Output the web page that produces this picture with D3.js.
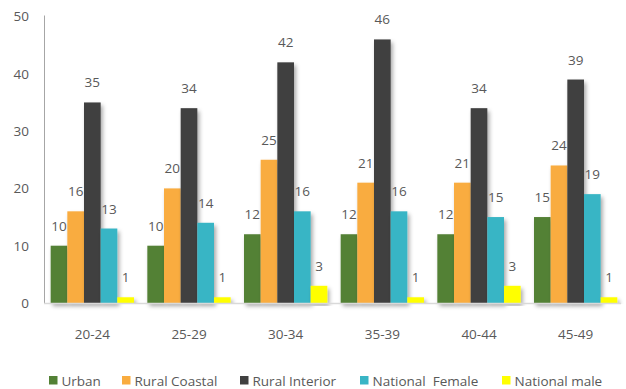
<!DOCTYPE html>
<html>
<head>
<meta charset="utf-8">
<script src="https://cdn.jsdelivr.net/npm/d3@7"></script>
<style>
  html, body { margin: 0; padding: 0; background: #fff; }
  svg { display: block; font-family: "Open Sans", "Liberation Sans", sans-serif; }
</style>
</head>
<body>
<svg id="chart" width="626" height="389"></svg>
<script>
// Age groups along the x axis
const categories = ["20-24", "25-29", "30-34", "35-39", "40-44", "45-49"];

// Series names and colours
const seriesNames = ["Urban", "Rural Coastal", "Rural Interior", "National  Female", "National male"];
const seriesColors = ["#538135", "#F9AC3F", "#404040", "#39B5C5", "#FFFF00"];

// Values per series, one per age group
const urban = [10, 10, 12, 12, 12, 15];
const ruralCoastal = [16, 20, 25, 21, 21, 24];
const ruralInterior = [35, 34, 42, 46, 34, 39];
const nationalFemale = [13, 14, 16, 16, 15, 19];
const nationalMale = [1, 1, 3, 1, 3, 1];

// Y axis ticks
const yTicks = [0, 10, 20, 30, 40, 50];

const seriesValues = [urban, ruralCoastal, ruralInterior, nationalFemale, nationalMale];

const svg = d3.select("#chart");
const textColor = "#595959";
const fontFamily = "'Open Sans', 'Liberation Sans', sans-serif";
const fontSize = "13.5px";

const x = d3.scaleBand()
  .domain(categories)
  .range([44, 624])
  .paddingInner(0.138)
  .paddingOuter(0.069);

const xInner = d3.scaleBand()
  .domain(d3.range(seriesNames.length))
  .range([0, x.bandwidth()]);

const y = d3.scaleLinear().domain([0, 50]).range([303, 16.5]);

// Soft shadow under the bars
const defs = svg.append("defs");
const f = defs.append("filter").attr("id", "shadow")
  .attr("x", "-20%").attr("y", "-5%").attr("width", "160%").attr("height", "120%");
f.append("feDropShadow")
  .attr("dx", 2).attr("dy", 3).attr("stdDeviation", 2)
  .attr("flood-color", "#000").attr("flood-opacity", 0.35);

// Y axis with labels only (no ticks)
const yAxis = d3.axisLeft(y).tickValues(yTicks).tickSize(0).tickPadding(15);
const yg = svg.append("g").attr("transform", "translate(44,0)").call(yAxis);
yg.select(".domain").attr("stroke", "#a6a6a6").attr("stroke-width", 1)
  .attr("d", `M0.5,${y(50) - 1}V${y(0)}`);
yg.selectAll("text")
  .attr("fill", textColor)
  .style("font-size", fontSize)
  .style("font-family", fontFamily);

// Bars grouped by age group
const groups = svg.append("g").selectAll("g")
  .data(categories)
  .join("g")
  .attr("transform", d => `translate(${x(d)},0)`);

seriesValues.forEach((vals, si) => {
  groups.append("rect")
    .attr("x", xInner(si))
    .attr("width", xInner.bandwidth())
    .attr("y", (d, i) => y(vals[i]))
    .attr("height", (d, i) => y(0) - y(vals[i]))
    .attr("fill", seriesColors[si])
    .attr("filter", "url(#shadow)");
});

// Baseline along the x axis
const xAxis = d3.axisBottom(x).tickSize(0).tickPadding(26);
const xg = svg.append("g").attr("transform", `translate(0,${y(0)})`).call(xAxis);
xg.select(".domain").attr("stroke", "#d9d9d9").attr("stroke-width", 1.5)
  .attr("d", `M44,0.5H621`);
xg.selectAll("text")
  .attr("fill", textColor)
  .style("font-size", fontSize)
  .style("font-family", fontFamily);

// Value labels above each bar
seriesValues.forEach((vals, si) => {
  groups.append("text")
    .attr("x", xInner(si) + xInner.bandwidth() / 2)
    .attr("y", (d, i) => y(vals[i]) - 15)
    .attr("text-anchor", "middle")
    .attr("fill", textColor)
    .style("font-size", fontSize)
    .text((d, i) => vals[i]);
});

// Legend along the bottom
const legendX = [49, 122, 240, 360, 502];
const legend = svg.append("g").selectAll("g")
  .data(seriesNames)
  .join("g")
  .attr("transform", (d, i) => `translate(${legendX[i]},376)`);
legend.append("rect")
  .attr("width", 8.5).attr("height", 8.5)
  .attr("fill", (d, i) => seriesColors[i]);
legend.append("text")
  .attr("x", 12.5).attr("y", 9.5)
  .attr("fill", textColor)
  .style("font-size", fontSize)
  .style("white-space", "pre")
  .attr("xml:space", "preserve")
  .text(d => d);
</script>
</body>
</html>
